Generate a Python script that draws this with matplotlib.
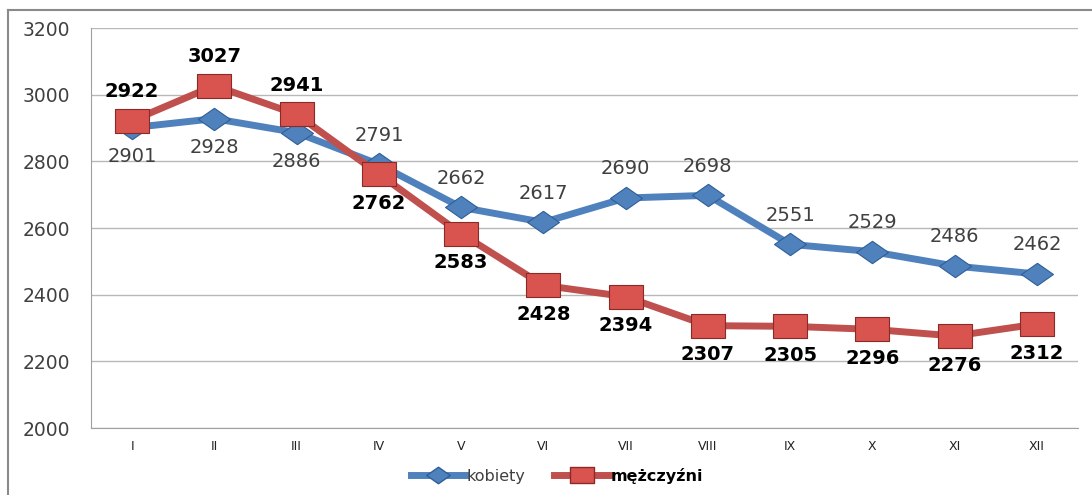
import matplotlib
matplotlib.use("Agg")
from matplotlib import pyplot as plt
from matplotlib.path import Path
from matplotlib.lines import Line2D
import numpy as np

# dane
miesiace = ["I", "II", "III", "IV", "V", "VI", "VII", "VIII", "IX", "X", "XI", "XII"]
kobiety = [2901, 2928, 2886, 2791, 2662, 2617, 2690, 2698, 2551, 2529, 2486, 2462]
mezczyzni = [2922, 3027, 2941, 2762, 2583, 2428, 2394, 2307, 2305, 2296, 2276, 2312]
# gdzie podpis: 1 = nad punktem, -1 = pod punktem
poz_kobiety = [-1, -1, -1, 1, 1, 1, 1, 1, 1, 1, 1, 1]
poz_mezczyzni = [1, 1, 1, -1, -1, -1, -1, -1, -1, -1, -1, -1]

niebieski = "#4f81bd"
czerwony = "#c0504d"

# markery jak w excelu - szeroki romb i prostokat
romb = Path([(-1, 0), (0, 0.7), (1, 0), (0, -0.7), (-1, 0)],
            [Path.MOVETO, Path.LINETO, Path.LINETO, Path.LINETO, Path.CLOSEPOLY])
prost = Path([(-1, -0.7), (1, -0.7), (1, 0.7), (-1, 0.7), (-1, -0.7)],
             [Path.MOVETO, Path.LINETO, Path.LINETO, Path.LINETO, Path.CLOSEPOLY])

fig = plt.figure(figsize=(10.92, 4.95), dpi=100)
ax = fig.add_axes([91 / 1092, 1 - 428 / 495, 987 / 1092, 400 / 495])

x = np.arange(len(miesiace))
ax.plot(x, kobiety, color=niebieski, lw=5, marker=romb, ms=23,
        mfc=niebieski, mec="#2f5f99", mew=0.8, zorder=3, label="kobiety")
ax.plot(x, mezczyzni, color=czerwony, lw=5, marker=prost, ms=24,
        mfc="#d9534f", mec="#8c2a27", mew=0.8, zorder=4, label="mężczyźni")

for xi, v, p in zip(x, kobiety, poz_kobiety):
    ax.annotate(str(v), (xi, v), xytext=(0, 21 * p), textcoords="offset points",
                ha="center", va="center", fontsize=14, color="#404040", zorder=5)
for xi, v, p in zip(x, mezczyzni, poz_mezczyzni):
    ax.annotate(str(v), (xi, v), xytext=(0, 21 * p), textcoords="offset points",
                ha="center", va="center", fontsize=14, fontweight="bold",
                color="black", zorder=5)

ax.set_xlim(-0.5, 11.5)
ax.set_ylim(2000, 3200)
ax.set_yticks(range(2000, 3201, 200))
ax.set_xticks(x)
ax.set_xticklabels(miesiace, family=["Liberation Sans Narrow", "DejaVu Sans"],
                   fontsize=9, color="#222222")
ax.tick_params(axis="y", length=0, pad=15, labelsize=13.5, labelcolor="#404040")
ax.tick_params(axis="x", length=0, pad=9)
ax.grid(axis="y", color="#b8b8b8", lw=1)
ax.set_axisbelow(True)
for s in ["top", "right"]:
    ax.spines[s].set_visible(False)
ax.spines["left"].set_color("#a0a0a0")
ax.spines["bottom"].set_color("#a0a0a0")

# legenda
uchwyty = [Line2D([], [], color=niebieski, lw=5, marker=romb, ms=17, mfc=niebieski, mec="#2f5f99"),
           Line2D([], [], color=czerwony, lw=5, marker=prost, ms=17, mfc="#d9534f", mec="#8c2a27")]
leg = fig.legend(uchwyty, ["kobiety", "mężczyźni"], loc="center", bbox_to_anchor=(0.51, 1 - 476 / 495),
                 ncol=2, frameon=False, fontsize=11.5, handlelength=3.4, handletextpad=0.1,
                 columnspacing=1.8)
leg.get_texts()[0].set_color("#404040")
leg.get_texts()[1].set_fontweight("bold")

# ramka wykresu
fig.add_artist(Line2D([8 / 1092, 8 / 1092], [0, 1 - 10 / 495], color="#8a8a8a", lw=1.5))
fig.add_artist(Line2D([8 / 1092, 1], [1 - 10 / 495, 1 - 10 / 495], color="#8a8a8a", lw=1.5))

plt.savefig("out.png", dpi=100)
